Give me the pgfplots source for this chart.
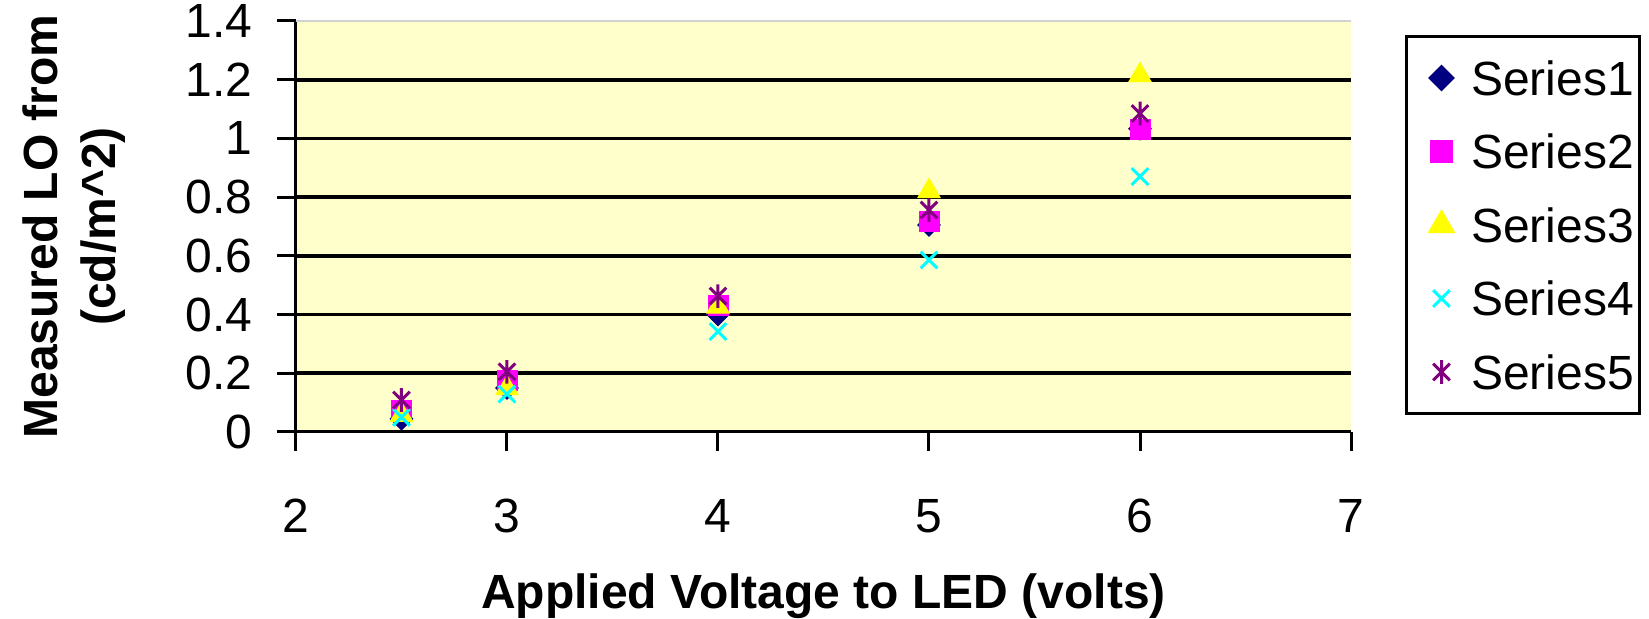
\documentclass[border=0pt]{standalone}
\usepackage{fontspec}
\setmainfont{Liberation Sans}
\usepackage{pgfplots}
\pgfplotsset{compat=1.18}

\definecolor{plotbg}{RGB}{255,255,204}
\definecolor{sone}{RGB}{0,0,128}
\definecolor{stwo}{RGB}{255,0,255}
\definecolor{sthree}{RGB}{255,255,0}
\definecolor{sfour}{RGB}{0,255,255}
\definecolor{sfive}{RGB}{128,0,128}

\newcommand{\bigfont}{\fontsize{24}{28.8}\selectfont}

% Excel style star: an x with a vertical bar through it
\pgfdeclareplotmark{xstar}{%
  \pgfpathmoveto{\pgfqpoint{-0.7071\pgfplotmarksize}{-0.7071\pgfplotmarksize}}%
  \pgfpathlineto{\pgfqpoint{0.7071\pgfplotmarksize}{0.7071\pgfplotmarksize}}%
  \pgfpathmoveto{\pgfqpoint{-0.7071\pgfplotmarksize}{0.7071\pgfplotmarksize}}%
  \pgfpathlineto{\pgfqpoint{0.7071\pgfplotmarksize}{-0.7071\pgfplotmarksize}}%
  \pgfpathmoveto{\pgfqpoint{0pt}{-\pgfplotmarksize}}%
  \pgfpathlineto{\pgfqpoint{0pt}{\pgfplotmarksize}}%
  \pgfusepathqstroke}

\begin{document}
\begin{tikzpicture}
\path[use as bounding box] (-148pt,-93.5pt) rectangle (676.5pt,216pt);
\begin{axis}[
    scale only axis,
    width=527.5pt, height=205.5pt,
    xmin=2, xmax=7, ymin=0, ymax=1.4,
    xtick={2,3,4,5,6,7},
    ytick={0,0.2,0.4,0.6,0.8,1,1.2,1.4},
    yticklabels={0,0.2,0.4,0.6,0.8,1,1.2,1.4},
    axis x line=bottom, axis y line=left,
    axis line style={line width=1.5pt, -},
    tick align=outside,
    major tick length=9.5pt,
    tick style={line width=1.5pt, black},
    extra y ticks={0.2,0.4,0.6,0.8,1,1.2},
    extra y tick labels={},
    extra y tick style={grid=major, major tick length=0pt},
    grid style={line width=1.8pt, black},
    axis background/.style={fill=plotbg},
    /pgf/number format/assume math mode=true,
    ticklabel style={font=\bigfont},
    xticklabel style={inner sep=0pt, anchor=north, yshift=-24pt},
    yticklabel style={inner sep=0pt, anchor=east, xshift=-12pt},
    xlabel={\textbf{Applied Voltage to LED (volts)}},
    ylabel={\textbf{Measured LO from}\\\textbf{(cd/m\^{}2)}},
    label style={font=\bigfont},
    xlabel style={at={(axis description cs:0.5,0)}, anchor=base, yshift=-88.5pt},
    ylabel style={at={(axis description cs:-0.2104,0.5)}, anchor=center, align=center},
    legend style={
        at={(1.0512,0.966)}, anchor=north west,
        draw=black, line width=1.5pt,
        inner xsep=3pt, inner ysep=2.4pt,
        column sep=2.8pt,
        font=\bigfont,
        nodes={inner sep=0pt, text height=26.975pt, text depth=9.775pt},
    },
    legend cell align=left,
    legend image code/.code={
        \path[draw=none, fill=none] (-14.5pt,-6pt) rectangle (12pt,6pt);
        \draw[#1] plot coordinates {(0pt,0pt)};
    },
]
\addplot[only marks, mark=square*, mark size=4pt, color=sone, mark options={fill=sone, rotate=45}]
    coordinates {(2.5,0.045) (3,0.15) (4,0.40) (5,0.705) (6,1.033)};
\addlegendentry{Series1}
\addplot[only marks, mark=square*, mark size=5pt, color=stwo, mark options={fill=stwo}]
    coordinates {(2.5,0.075) (3,0.175) (4,0.43) (5,0.716) (6,1.032)};
\addlegendentry{Series2}
\addplot[only marks, mark=triangle*, mark size=6.5pt, color=sthree, mark options={fill=sthree}]
    coordinates {(2.5,0.058) (3,0.149) (4,0.427) (5,0.82) (6,1.215)};
\addlegendentry{Series3}
\addplot[only marks, mark=x, mark size=5.9pt, color=sfour, mark options={line width=1.5pt}]
    coordinates {(2.5,0.05) (3,0.129) (4,0.342) (5,0.586) (6,0.87)};
\addlegendentry{Series4}
\addplot[only marks, mark=xstar, mark size=5.9pt, color=sfive, mark options={line width=1.5pt}]
    coordinates {(2.5,0.109) (3,0.205) (4,0.463) (5,0.756) (6,1.085)};
\addlegendentry{Series5}
\draw[gray!35, line width=0.8pt] (rel axis cs:0,1) -- (rel axis cs:1,1);
\end{axis}
\end{tikzpicture}
\end{document}
